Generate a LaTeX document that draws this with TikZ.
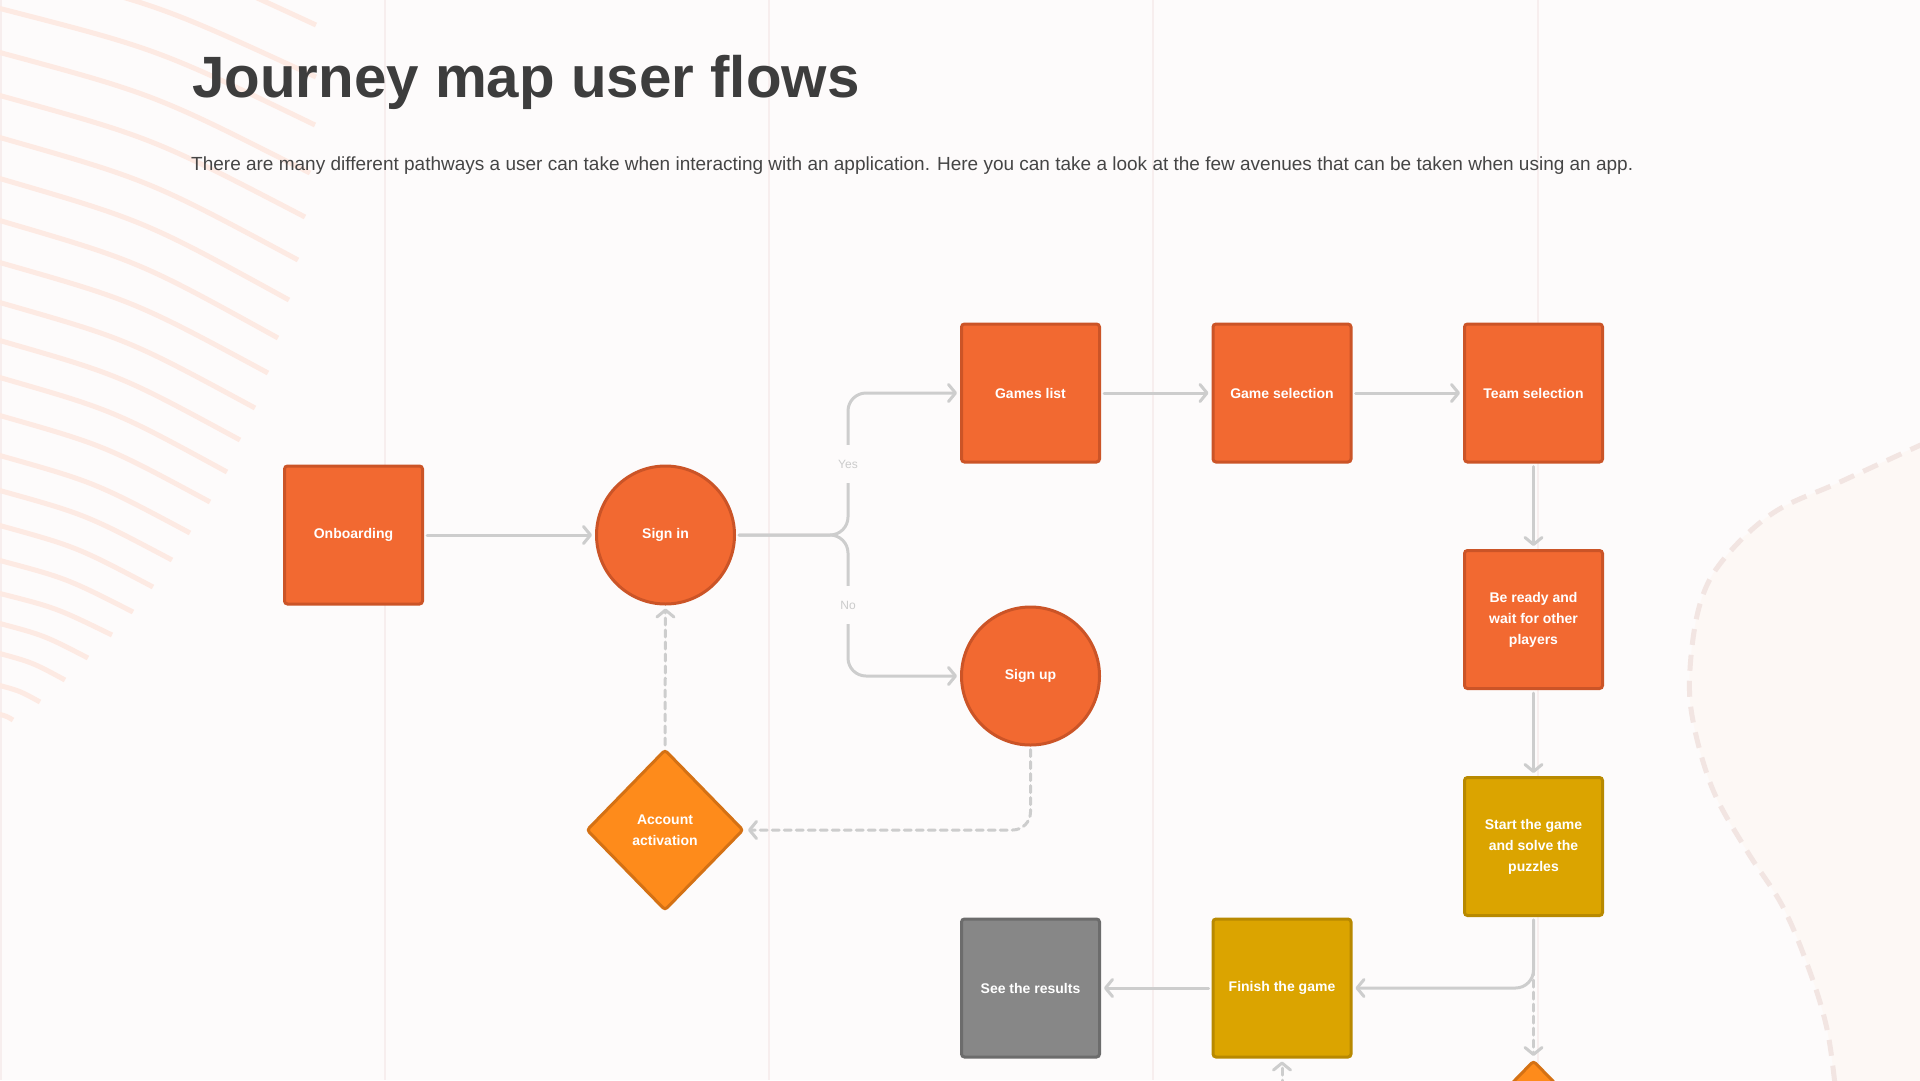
\documentclass[tikz,border=0pt]{standalone}
\usepackage{fontspec}
\setmainfont{Liberation Sans}
\usetikzlibrary{shapes.geometric,arrows.meta}
\definecolor{bg}{HTML}{FDFBFB}
\definecolor{gridC}{HTML}{F7EEEE}
\definecolor{decoC}{HTML}{FDEAE3}
\definecolor{blobF}{HTML}{FDF8F5}
\definecolor{blobD}{HTML}{F2E5E2}
\definecolor{titleC}{HTML}{3D3D3D}
\definecolor{subC}{HTML}{454545}
\definecolor{orF}{HTML}{F26931}
\definecolor{orB}{HTML}{CB5427}
\definecolor{goF}{HTML}{DBA400}
\definecolor{goB}{HTML}{B88900}
\definecolor{diF}{HTML}{FE8B1B}
\definecolor{diB}{HTML}{D47114}
\definecolor{grF}{HTML}{878787}
\definecolor{grB}{HTML}{6C6C6C}
\definecolor{lineC}{HTML}{CDCDCD}
\definecolor{labC}{HTML}{CBCBCB}
\tikzset{
  nodetext/.style={text=white, font=\bfseries\fontsize{14}{21}\selectfont, align=center},
  boxnode/.style={nodetext, draw=orB, fill=orF, line width=3pt, rounded corners=3pt,
    minimum width=138pt, minimum height=138pt, inner sep=0pt},
  goldnode/.style={boxnode, draw=goB, fill=goF},
  graynode/.style={boxnode, draw=grB, fill=grF},
  circnode/.style={nodetext, circle, draw=orB, fill=orF, line width=3pt, minimum size=138pt, inner sep=0pt},
  dianode/.style={nodetext, diamond, draw=diB, fill=diF, line width=3pt, rounded corners=3pt,
    minimum width=157pt, minimum height=161pt, inner sep=0pt},
  conn/.style={draw=lineC, line width=3pt, line cap=round,
    -{Straight Barb[length=7pt,width=17pt,line cap=round,line join=round]},
    shorten >=3pt, shorten <=3pt},
  dconn/.style={conn, dash pattern=on 7pt off 5pt},
  lab/.style={fill=bg, text=labC, font=\fontsize{12}{14}\selectfont, inner sep=0pt,
    minimum width=26pt, minimum height=38pt},
  deco/.style={draw=decoC, line width=5pt},
  gridline/.style={draw=gridC, line width=1.5pt}
}
\begin{document}
\begin{tikzpicture}[x=1pt,y=-1pt]
\useasboundingbox (0,0) rectangle (1920,1080);
\fill[bg] (0,0) rectangle (1920,1080);
% grid
\foreach \gx in {1,385,769,1153,1538} \draw[gridline] (\gx,0) -- (\gx,1080);
% left decoration
\begin{scope}
\clip (0,0) rectangle (1920,1080);
\foreach \xe/\ye/\ys in {316/25/-87,316/77/-35,315/125/8,310/173/52,305/217/95,298/260/137,
  289/300/178,278/338/220,268/373/262,255/408/302,240/440/340,227/472/377,210/502/415,
  190/533/455,172/560/490,153/587/525,133/612/560,112/635/593,88/658/623,65/680/653,
  40/702/685,13/720/714}{
  \pgfmathsetmacro\cx{0.5*\xe}
  \pgfmathsetmacro\cy{\ys+0.35*(\ye-\ys)}
  \draw[deco] (-2,\ys) .. controls (\cx,\cy) .. (\xe,\ye);
}
% right blob
\fill[blobF] plot[smooth, tension=0.6] coordinates {(1920,445) (1840,482) (1773,513) (1723,560)
  (1700,604) (1690,669) (1693,721) (1713,790) (1747,851) (1783,907) (1810,972) (1827,1029) (1835,1085)}
  -- (1925,1085) -- (1925,445) -- cycle;
\draw[draw=blobD, line width=5pt, dash pattern=on 16pt off 10pt] plot[smooth, tension=0.6] coordinates {(1925,443) (1840,482) (1773,513) (1723,560)
  (1700,604) (1690,669) (1693,721) (1713,790) (1747,851) (1783,907) (1810,972) (1827,1029) (1835,1085)};
\end{scope}
% title
\node[anchor=base west, inner sep=0pt, text=titleC, font=\bfseries\fontsize{58.3}{64}\selectfont] (title) at (192,97) {Journey map user flows};
\node[anchor=base west, inner sep=0pt, text=subC, font=\fontsize{19}{22}\selectfont] (sub) at (191,170) {There are many different pathways a user can take when interacting with an application. Here you can take a look at the few avenues that can be taken when using an app.};
% nodes
\node[boxnode] (onb) at (353.5,535) {Onboarding};
\node[circnode] (signin) at (665.5,535) {Sign in};
\node[boxnode] (games) at (1030.5,393) {Games list};
\node[circnode] (signup) at (1030.5,676) {Sign up};
\node[boxnode] (gamesel) at (1282,393) {Game selection};
\node[boxnode] (teamsel) at (1533.5,393) {Team selection};
\node[boxnode] (ready) at (1533.5,619.5) {Be ready and\\wait for other\\players};
\node[goldnode] (start) at (1533.5,846.5) {Start the game\\and solve the\\puzzles};
\node[goldnode] (finish) at (1282,988) {Finish the game};
\node[graynode] (results) at (1030.5,988) {See the results};
\node[dianode] (activ) at (665,830) {Account\\activation};
\node[dianode] (bdia) at (1533.5,1141) {};
\coordinate (fbot) at (1282,1090);
% connectors
\draw[conn] (onb) -- (signin);
\draw[conn, rounded corners=18pt] (signin.east) -- (848,535) -- (848,393) -- (games.west);
\draw[conn, rounded corners=18pt] (signin.east) -- (848,535) -- (848,676) -- (signup.west);
\node[lab] (nolab) at (848,605) {No};
\node[lab] (yeslab) at (848,464) {Yes};
\draw[conn] (games) -- (gamesel);
\draw[conn] (gamesel) -- (teamsel);
\draw[conn] (teamsel) -- (ready);
\draw[conn] (ready) -- (start);
\draw[dconn] (start.south) -- (bdia.north);
\draw[conn, rounded corners=18pt] (start.south) -- (1533.5,988) -- (finish.east);
\draw[conn] (finish) -- (results);
\draw[dconn] (fbot) -- (finish.south);
\draw[dconn, rounded corners=18pt] (signup.south) -- (1030.5,830) -- (activ.east);
\draw[dconn] (activ.north) -- (signin.south);
\end{tikzpicture}
\end{document}
